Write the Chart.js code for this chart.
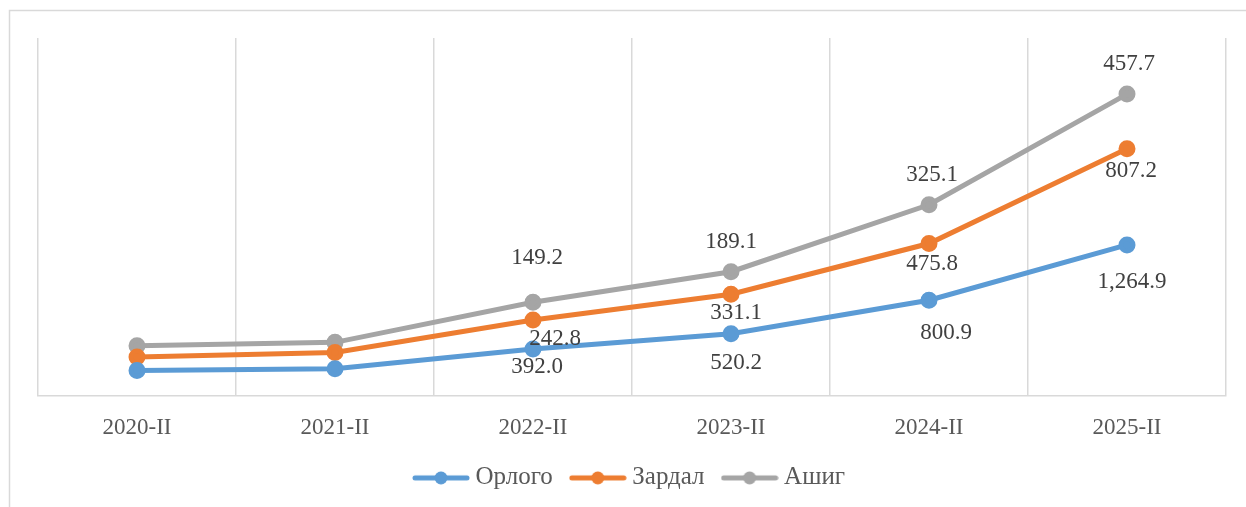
<!DOCTYPE html>
<html>
<head>
<meta charset="utf-8">
<script src="https://cdn.jsdelivr.net/npm/chart.js@4.4.1/dist/chart.umd.min.js"></script>
<style>
  html, body { margin: 0; padding: 0; background: #ffffff; }
  #wrap { width: 1246px; height: 507px; position: relative; }
</style>
</head>
<body>
<div id="wrap"><canvas id="c" width="1246" height="507"></canvas></div>
<script>
// ---- data ----
const categories = ['2020-II', '2021-II', '2022-II', '2023-II', '2024-II', '2025-II'];
const income  = [212, 227, 392.0, 520.2, 800.9, 1264.9];   // Орлого
const expense = [113, 137, 242.8, 331.1, 475.8, 807.2];    // Зардал
const profit  = [95, 84, 149.2, 189.1, 325.1, 457.7];      // Ашиг
const seriesNames = ['Орлого', 'Зардал', 'Ашиг'];
const labelledCategories = ['2022-II', '2023-II', '2024-II', '2025-II'];

// ---- style ----
const colors = ['#5B9BD5', '#ED7D31', '#A5A5A5'];
// data-label offsets (px, relative to each labelled point), per series
const labelDx = [[4, 5, 17, 5], [22, 5, 3, 4], [4, 0, 3, 2]];
const labelDy = [[18, 29, 33, 37], [19, 19, 20, 22], [-44, -30, -30, -30]];
const serif = '"Liberation Serif", "Times New Roman", serif';

function legendIcon(color) {
  const cv = document.createElement('canvas');
  cv.width = 58; cv.height = 14;
  const g = cv.getContext('2d');
  g.strokeStyle = color; g.lineWidth = 5; g.lineCap = 'round';
  g.beginPath(); g.moveTo(3, 7); g.lineTo(55, 7); g.stroke();
  g.fillStyle = color;
  g.beginPath(); g.arc(29, 7, 6.5, 0, Math.PI * 2); g.fill();
  return cv;
}

const fmt = v => v.toLocaleString('en-US', { minimumFractionDigits: 1, maximumFractionDigits: 1 });

const dataLabels = {
  id: 'dataLabels',
  afterDatasetsDraw(chart) {
    const ctx = chart.ctx;
    ctx.save();
    ctx.font = '23px ' + serif;
    ctx.fillStyle = '#404040';
    ctx.textAlign = 'center';
    ctx.textBaseline = 'middle';
    chart.data.datasets.forEach((ds, di) => {
      const meta = chart.getDatasetMeta(di);
      meta.data.forEach((pt, i) => {
        const k = labelledCategories.indexOf(categories[i]);
        if (k < 0) return;
        ctx.fillText(fmt(ds.data[i]), pt.x + labelDx[di][k], pt.y + labelDy[di][k]);
      });
    });
    ctx.restore();
  }
};

const outerBorder = {
  id: 'outerBorder',
  beforeDraw(chart) {
    const ctx = chart.ctx;
    ctx.save();
    ctx.fillStyle = '#ffffff';
    ctx.fillRect(0, 0, chart.width, chart.height);
    ctx.strokeStyle = '#d9d9d9';
    ctx.lineWidth = 1.5;
    ctx.strokeRect(9.5, 10.5, chart.width + 20, chart.height + 20);
    ctx.restore();
  }
};

const mk = (name, data, color) => ({
  label: name,
  data: data,
  borderColor: color,
  backgroundColor: color,
  pointBackgroundColor: color,
  pointBorderColor: color,
  borderWidth: 5,
  pointRadius: 6,
  pointHoverRadius: 6,
  pointStyle: 'circle',
  fill: false,
  tension: 0
});

new Chart(document.getElementById('c'), {
  type: 'line',
  data: {
    labels: categories,
    datasets: [
      mk(seriesNames[0], income, colors[0]),
      mk(seriesNames[1], expense, colors[1]),
      mk(seriesNames[2], profit, colors[2])
    ]
  },
  options: {
    responsive: false,
    animation: false,
    events: [],
    layout: { padding: { left: 38, right: 20, top: 38, bottom: 6.6 } },
    scales: {
      x: {
        offset: true,
        grid: { offset: true, color: '#d9d9d9', lineWidth: 1.5, drawTicks: false },
        border: { color: '#d9d9d9', width: 1.5 },
        ticks: { color: '#595959', font: { family: serif, size: 23 }, padding: 18, maxRotation: 0 },
        afterFit(scale) { scale.height = 46.6; }
      },
      y: {
        display: false,
        stacked: true,
        min: 0,
        max: 3000
      }
    },
    plugins: {
      legend: {
        position: 'bottom',
        labels: {
          usePointStyle: true,
          pointStyleWidth: 44,
          boxHeight: 14,
          color: '#595959',
          font: { family: serif, size: 25 },
          padding: 23,
          generateLabels(chart) {
            return chart.data.datasets.map((ds, i) => ({
              text: ds.label,
              fillStyle: ds.borderColor,
              strokeStyle: ds.borderColor,
              pointStyle: legendIcon(ds.borderColor),
              fontColor: '#595959',
              lineWidth: 0,
              hidden: false,
              datasetIndex: i
            }));
          }
        }
      },
      tooltip: { enabled: false }
    }
  },
  plugins: [outerBorder, dataLabels]
});
</script>
</body>
</html>
